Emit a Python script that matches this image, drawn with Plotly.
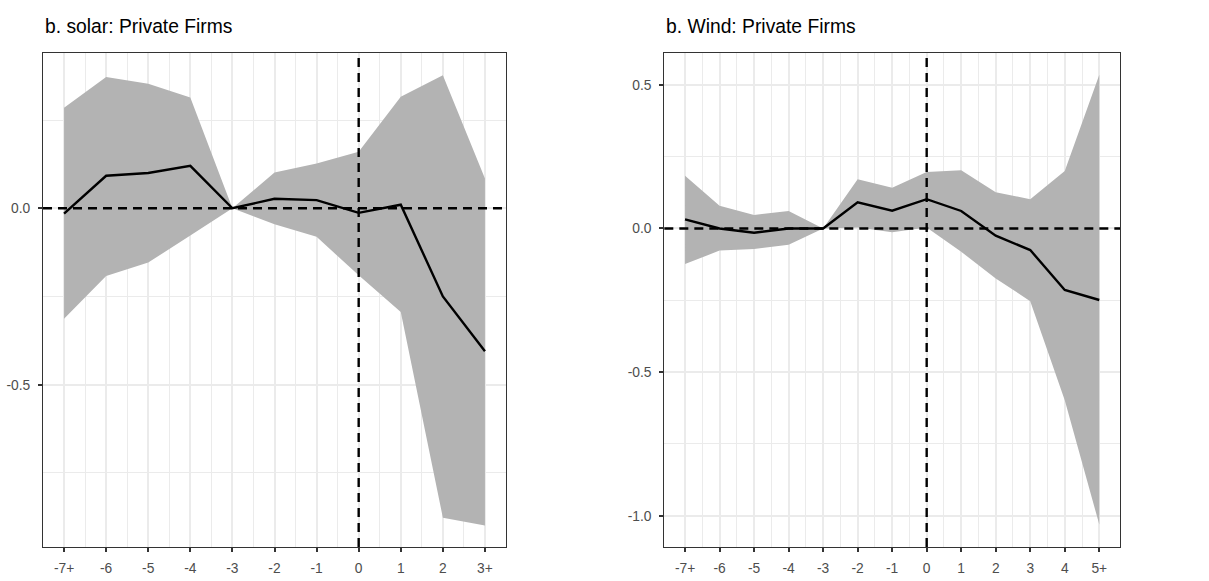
import plotly.graph_objects as go

# event time (relative to treatment)
solar_x = [-7, -6, -5, -4, -3, -2, -1, 0, 1, 2, 3]
solar_labels = ["-7+", "-6", "-5", "-4", "-3", "-2", "-1", "0", "1", "2", "3+"]
solar_est = [-0.015, 0.092, 0.100, 0.120, 0.0, 0.027, 0.023, -0.013, 0.010, -0.250, -0.405]
solar_hi = [0.285, 0.372, 0.353, 0.314, 0.0, 0.101, 0.127, 0.160, 0.316, 0.377, 0.084]
solar_lo = [-0.313, -0.192, -0.154, -0.077, 0.0, -0.045, -0.081, -0.190, -0.294, -0.877, -0.899]

wind_x = [-7, -6, -5, -4, -3, -2, -1, 0, 1, 2, 3, 4, 5]
wind_labels = ["-7+", "-6", "-5", "-4", "-3", "-2", "-1", "0", "1", "2", "3", "4", "5+"]
wind_est = [0.032, 0.0, -0.015, 0.0, 0.0, 0.091, 0.062, 0.102, 0.061, -0.025, -0.075, -0.214, -0.249]
wind_hi = [0.184, 0.079, 0.047, 0.061, 0.0, 0.171, 0.142, 0.197, 0.203, 0.126, 0.102, 0.200, 0.535]
wind_lo = [-0.124, -0.077, -0.071, -0.057, 0.0, 0.003, -0.013, 0.003, -0.081, -0.174, -0.253, -0.598, -1.031]

titles = ["b. solar: Private Firms", "b. Wind: Private Firms"]

RIBBON = "#b3b3b3"
GRID = "#ebebeb"
FONT = "Liberation Sans, Arial, sans-serif"

fig = go.Figure()


def add_panel(xs, est, lo, hi, xa, ya):
    # confidence band
    fig.add_trace(go.Scatter(x=xs + xs[::-1], y=hi + lo[::-1], fill="toself",
                             fillcolor=RIBBON, line=dict(width=0),
                             mode="lines", hoverinfo="skip",
                             xaxis=xa, yaxis=ya, showlegend=False))
    fig.add_trace(go.Scatter(x=xs, y=est, mode="lines",
                             line=dict(color="black", width=2.4),
                             xaxis=xa, yaxis=ya, showlegend=False))


add_panel(solar_x, solar_est, solar_lo, solar_hi, "x", "y")
add_panel(wind_x, wind_est, wind_lo, wind_hi, "x2", "y2")

# reference lines at zero
for xr, yr in [("x", "y"), ("x2", "y2")]:
    fig.add_shape(type="line", xref=xr + " domain", yref=yr, x0=0, x1=1, y0=0, y1=0,
                  line=dict(color="black", width=2.4, dash="9px,6px"))
    fig.add_shape(type="line", xref=xr, yref=yr + " domain", x0=0, x1=0, y0=0, y1=1,
                  line=dict(color="black", width=2.4, dash="9px,6px"))

for i, t in enumerate(titles):
    xr = "x domain" if i == 0 else "x2 domain"
    fig.add_annotation(text=t, xref=xr, yref="paper", x=0, y=1,
                       xanchor="left", yanchor="bottom", yshift=14,
                       showarrow=False, font=dict(size=19.3, color="black", family=FONT))

axis_common = dict(showline=True, mirror=True, linecolor="#333333", linewidth=1,
                   ticks="outside", ticklen=4, tickwidth=1.5, tickcolor="#333333",
                   showgrid=True, gridcolor=GRID, gridwidth=1.8, zeroline=False,
                   automargin=False,
                   tickfont=dict(size=13.8, color="#4d4d4d", family=FONT))

fig.update_layout(
    width=1209, height=581,
    margin=dict(l=43, r=89, t=53, b=34),
    paper_bgcolor="white", plot_bgcolor="white",
    font=dict(family=FONT),
    xaxis=dict(domain=[0, 0.4299], range=[-7.5, 3.5], tickmode="array",
               tickvals=solar_x, ticktext=solar_labels, ticklabelstandoff=4,
               minor=dict(tickvals=[v + 0.5 for v in solar_x[:-1]], showgrid=True,
                          gridcolor=GRID, gridwidth=1, ticklen=0),
               **axis_common),
    yaxis=dict(domain=[0, 1], range=[-0.96, 0.44], tickmode="array",
               tickvals=[-0.5, 0.0], ticktext=["-0.5", "0.0"], ticklabelstandoff=5,
               minor=dict(tickvals=[-0.75, -0.25, 0.25], showgrid=True,
                          gridcolor=GRID, gridwidth=1, ticklen=0),
               **axis_common),
    xaxis2=dict(domain=[0.5769, 1], range=[-7.6, 5.6], anchor="y2", tickmode="array",
                tickvals=wind_x, ticktext=wind_labels, ticklabelstandoff=4,
                minor=dict(tickvals=[v + 0.5 for v in wind_x[:-1]], showgrid=True,
                           gridcolor=GRID, gridwidth=1, ticklen=0),
                **axis_common),
    yaxis2=dict(domain=[0, 1], range=[-1.109, 0.611], anchor="x2", tickmode="array",
                tickvals=[-1.0, -0.5, 0.0, 0.5], ticktext=["-1.0", "-0.5", "0.0", "0.5"],
                ticklabelstandoff=5,
                minor=dict(tickvals=[-0.75, -0.25, 0.25], showgrid=True,
                           gridcolor=GRID, gridwidth=1, ticklen=0),
                **axis_common),
)

# drop the default page margin so the figure sits at the window corner
fig.write_html("out.html", config={"displayModeBar": False},
               post_script="document.body.style.margin='0';")
